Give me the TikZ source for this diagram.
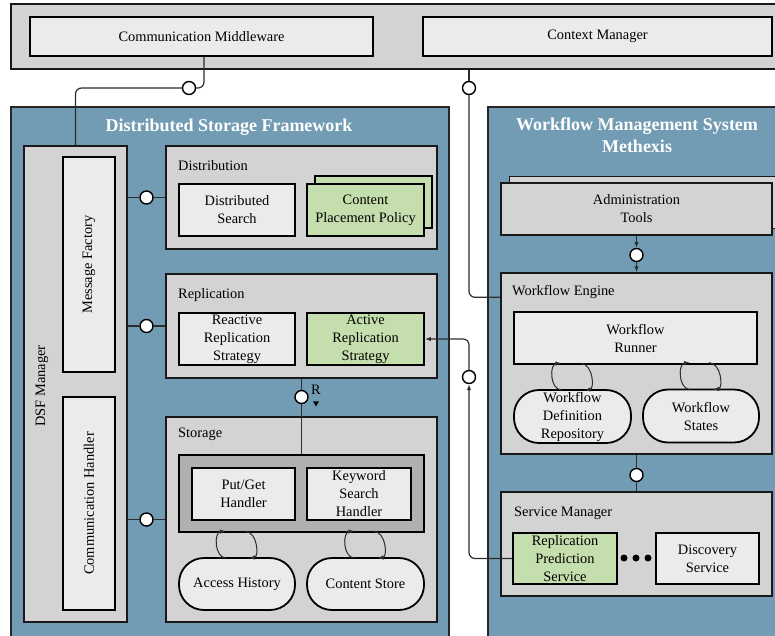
\documentclass[tikz,border=0pt]{standalone}
\usepackage{fontspec}
\setmainfont{Liberation Serif}
\usetikzlibrary{calc,arrows.meta,shapes.geometric}
\definecolor{panelblue}{RGB}{114,156,180}
\definecolor{contgray}{RGB}{211,211,211}
\definecolor{boxgray}{RGB}{235,235,235}
\definecolor{innergray}{RGB}{176,176,176}
\definecolor{boxgreen}{RGB}{197,222,173}
\definecolor{lineclr}{RGB}{45,45,45}
\begin{document}
\begin{tikzpicture}[x=1pt,y=-1pt,
  font=\fontsize{14.4}{18}\selectfont,
  panel/.style={draw=black!85, line width=1.3pt, fill=panelblue, inner sep=0},
  cont/.style={draw=black!90, line width=1.4pt, fill=contgray, inner sep=0},
  comp/.style={draw=black, line width=1.8pt, fill=boxgray, inner sep=0, align=center},
  greencomp/.style={comp, fill=boxgreen},
  storebox/.style={comp, rounded corners=25pt},
  iface/.style={circle, draw=black, line width=1.4pt, fill=white, minimum size=13pt, inner sep=0},
  conn/.style={draw=lineclr, line width=1.2pt},
  arr/.style={-{Latex[length=6pt,width=4.5pt]}},
  titletext/.style={font=\fontsize{18}{22}\selectfont\bfseries, text=white, align=center},
  hdr/.style={anchor=west, inner sep=0},
  dotnode/.style={circle, fill=black, inner sep=0, minimum size=7pt},
]
\useasboundingbox (0,0) rectangle (775,635);
\clip (0,0) rectangle (775,635);

% ---- top bar
\node[cont, minimum width=779pt, minimum height=65pt] (topbar) at (400.5,36.5) {};
\node[comp, minimum width=343pt, minimum height=39pt] (cm) at (201.5,36.5) {Communication Middleware};
\node[comp, minimum width=349pt, minimum height=39pt] (ctx) at (597.5,36.5) {Context Manager};

% ---- panels
\node[panel, minimum width=438pt, minimum height=543pt] (dsf) at (230,378.5) {};
\node[panel, minimum width=300pt, minimum height=543pt] (wms) at (638,378.5) {};
\node[titletext] (dsftitle) at (229,127) {Distributed Storage Framework};
\node[titletext] (wmstitle) at (637,135) {Workflow Management System\\Methexis};

% ---- DSF manager
\node[cont, minimum width=103pt, minimum height=476pt] (dsfm) at (75.5,384) {};
\node[rotate=90, inner sep=0] (dsfmlbl) at (42,386) {DSF Manager};
\node[comp, minimum width=52pt, minimum height=215pt] (mf) at (89,264.5) {};
\node[rotate=90, inner sep=0] (mflbl) at (mf) {Message Factory};
\node[comp, minimum width=52pt, minimum height=213pt] (ch) at (89,503.5) {};
\node[rotate=90, inner sep=0] (chlbl) at (ch) {Communication Handler};

% ---- Distribution
\node[cont, minimum width=271pt, minimum height=103pt] (dist) at (301.5,197.5) {};
\node[hdr] (distlbl) at (178,166) {Distribution};
\node[comp, minimum width=116pt, minimum height=52pt] (ds) at (237,210) {Distributed\\Search};
\node[greencomp, minimum width=117pt, minimum height=52pt] (cppb) at (373.5,202) {};
\node[greencomp, minimum width=117pt, minimum height=52pt] (cpp) at (365.5,210) {Content\\Placement Policy};

% ---- Replication
\node[cont, minimum width=271pt, minimum height=104pt] (rep) at (301.5,326) {};
\node[hdr] (replbl) at (178,295) {Replication};
\node[comp, minimum width=116pt, minimum height=52pt] (rrs) at (237,339) {Reactive\\Replication\\Strategy};
\node[greencomp, minimum width=117pt, minimum height=52pt] (ars) at (365.5,339) {Active\\Replication\\Strategy};

% ---- Storage
\node[cont, minimum width=271pt, minimum height=205pt] (sto) at (301.5,519.5) {};
\node[hdr] (stolbl) at (178,434) {Storage};
\node[comp, fill=innergray, minimum width=245pt, minimum height=77pt] (hb) at (301.5,493.5) {};
\node[comp, minimum width=103pt, minimum height=52pt] (pg) at (243.5,494) {Put/Get\\Handler};
\node[comp, minimum width=104pt, minimum height=52pt] (ksh) at (359,494) {Keyword\\Search\\Handler};
\node[storebox, minimum width=116pt, minimum height=52pt] (ah) at (237,584) {Access History};
\node[storebox, minimum width=117pt, minimum height=52pt] (cs) at (365.5,584) {Content Store};

% ---- WMS
\node[cont, line width=1pt, minimum width=271pt, minimum height=52pt] (admb) at (644.5,202) {};
\node[cont, line width=1.8pt, minimum width=271pt, minimum height=52pt, align=center] (adm) at (636.5,209) {Administration\\Tools};
\node[cont, minimum width=271pt, minimum height=181pt] (we) at (636.5,363.5) {};
\node[hdr] (welbl) at (512,292) {Workflow Engine};
\node[comp, minimum width=243pt, minimum height=52pt] (wr) at (635.5,338) {Workflow\\Runner};
\node[storebox, minimum width=117pt, minimum height=53pt] (wdr) at (572.5,416.5) {Workflow\\Definition\\Repository};
\node[storebox, minimum width=116pt, minimum height=53pt] (wst) at (701,416) {Workflow\\States};
\node[cont, minimum width=271pt, minimum height=104pt] (sm) at (636.5,544) {};
\node[hdr] (smlbl) at (514,513) {Service Manager};
\node[greencomp, minimum width=104pt, minimum height=51pt] (rps) at (565,558.5) {Replication\\Prediction\\Service};
\node[comp, minimum width=103pt, minimum height=51pt] (disc) at (707.5,558.5) {Discovery\\Service};
\node[dotnode] (d1) at (624,558) {};
\node[dotnode] (d2) at (636,558) {};
\node[dotnode] (d3) at (648,558) {};

% ---- interface circles
\node[iface] (c1) at (189,88) {};
\node[iface] (c2) at (469,88) {};
\node[iface] (c3) at (469,377) {};
\node[iface] (c4) at (301.5,397) {};
\node[iface] (c5) at (636.5,255) {};
\node[iface] (c6) at (636.5,475) {};
\node[iface] (c7) at ($(dsfm.east |- dist.west)!0.5!(dist.west)$) {};
\node[iface] (c8) at ($(dsfm.east |- rep.west)!0.5!(rep.west)$) {};
\node[iface] (c9) at ($(dsfm.east |- sto.west)!0.5!(sto.west)$) {};

% ---- connectors
\draw[conn, rounded corners=6pt] ([xshift=2.5pt]cm.south) |- (c1.east);
\draw[conn, rounded corners=6pt] (c1.west) -| (dsfm.north);
\draw[conn] (topbar.south -| c2) -- (c2.north);
\draw[conn, rounded corners=6pt] (c2.south) |- ($(we.north west)+(0,25)$);
\draw[conn, arr, rounded corners=6pt] (rps.west) -| (c3.south);
\draw[conn, arr, rounded corners=6pt] (c3.north) |- (ars.east);
\draw[conn] (rep.south) -- (c4.north);
\draw[conn] (c4.south) -- (hb.north);
\node[inner sep=0] (rlbl) at (316,390) {R};
\node[regular polygon, regular polygon sides=3, shape border rotate=180, fill=black, inner sep=0, minimum size=7pt] (rtri) at (316,403) {};
\draw[conn, arr] (adm.south) -- (c5.north);
\draw[conn, arr] (c5.south) -- (we.north);
\draw[conn] (we.south) -- (c6.north);
\draw[conn] (c6.south) -- (sm.north);
\draw[conn] (dsfm.east |- c7) -- (c7.west);
\draw[conn] (c7.east) -- (dist.west);
\draw[conn] (dsfm.east |- c8) -- (c8.west);
\draw[conn] (c8.east) -- (rep.west);
\draw[conn] (dsfm.east |- c9) -- (c9.west);
\draw[conn] (c9.east) -- (sto.west);

% ---- loops
\foreach \n in {ah,cs,wdr,wst}{
  \draw[conn, line width=1pt, arr] ($(\n.north)+(-11,1)$) .. controls ($(\n.north)+(-23,0)$) and ($(\n.north)+(-23,-25)$) .. ($(\n.north)+(-11,-26)$);
  \draw[conn, line width=1pt, arr] ($(\n.north)+(8,-26)$) .. controls ($(\n.north)+(21,-25)$) and ($(\n.north)+(22,0)$) .. ($(\n.north)+(12,1)$);
}
\end{tikzpicture}
\end{document}
